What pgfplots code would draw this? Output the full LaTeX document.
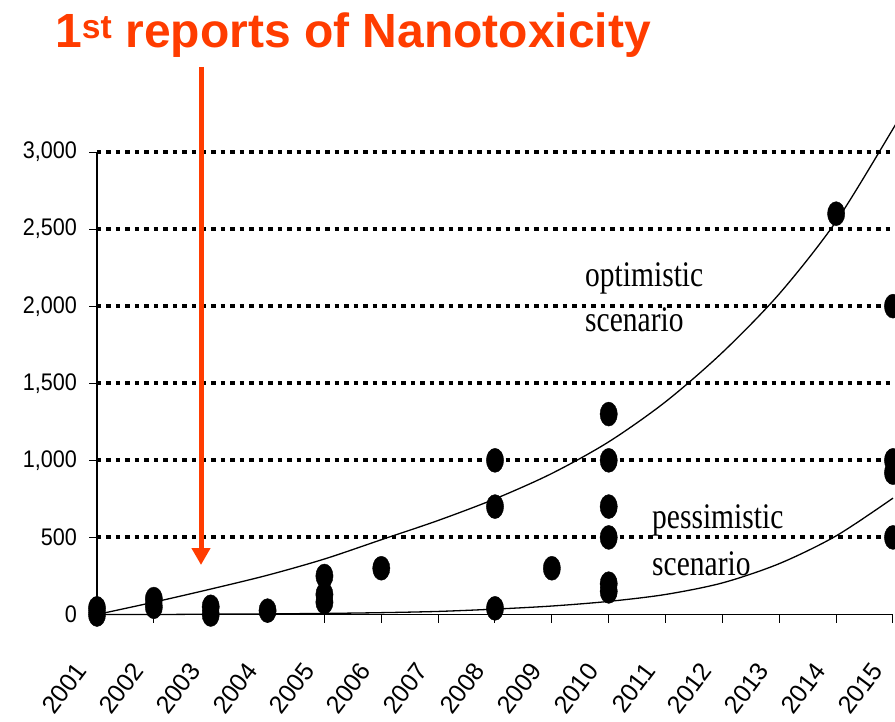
\documentclass[border=0pt]{standalone}
\usepackage{fontspec}
\setmainfont{Liberation Sans}
\newfontfamily\seriffont{Liberation Serif}
\usepackage{pgfplots}
\pgfplotsset{compat=1.18}
\usetikzlibrary{arrows.meta}
\definecolor{titlered}{RGB}{255,60,0}
\begin{document}
\begin{tikzpicture}[x=1pt,y=1pt]
\useasboundingbox (-97,-106.5) rectangle (798,614.5);
\begin{axis}[
  at={(0,0)}, anchor=south west, scale only axis,
  width=796pt, height=462.5pt,
  xmin=2001, xmax=2015, ymin=0, ymax=3000,
  clip=false,
  axis x line=bottom, axis y line=left,
  axis line style={-, line width=1.2pt, black},
  xtick={2001,2002,...,2015},
  xticklabels={2001,2002,2003,2004,2005,2006,2007,2008,2009,2010,2011,2012,2013,2014,2015},
  ytick={0,500,...,3000},
  yticklabels={0,500,{1,000},{1,500},{2,000},{2,500},{3,000}},
  tick align=outside, major tick length=8pt,
  tick style={black, line width=1pt},
  yticklabel style={font=\fontsize{24}{24}\selectfont, xshift=-12pt, xscale=0.9, anchor=east, inner sep=0pt},
  xticklabel style={font=\fontsize{25}{25}\selectfont, xshift=-23pt, yshift=-38pt, rotate=53, anchor=north east, inner sep=0pt},
]
\draw[line width=4pt, dash pattern=on 4.5pt off 5pt] (axis cs:2001,500) -- (axis cs:2015.05,500);
\draw[line width=4pt, dash pattern=on 4.5pt off 5pt] (axis cs:2001,1000) -- (axis cs:2015.05,1000);
\draw[line width=4pt, dash pattern=on 4.5pt off 5pt] (axis cs:2001,1500) -- (axis cs:2015.05,1500);
\draw[line width=4pt, dash pattern=on 4.5pt off 5pt] (axis cs:2001,2000) -- (axis cs:2015.05,2000);
\draw[line width=4pt, dash pattern=on 4.5pt off 5pt] (axis cs:2001,2500) -- (axis cs:2015.05,2500);
\draw[line width=4pt, dash pattern=on 4.5pt off 5pt] (axis cs:2001,3000) -- (axis cs:2015.05,3000);
% optimistic scenario
\addplot[black, line width=1.3pt, smooth] coordinates {
 (2001,0) (2002,80) (2003,165) (2004,255) (2005,360) (2006,485) (2007,610)
 (2008,750) (2009,915) (2010,1120) (2011,1380) (2012,1700) (2013,2080)
 (2014,2550) (2015,3150) (2015.1,3220)};
% pessimistic scenario
\addplot[black, line width=1.3pt, smooth] coordinates {
 (2001,0) (2002,0) (2003,2) (2004,4) (2005,7) (2006,12) (2007,20)
 (2008,35) (2009,55) (2010,85) (2011,130) (2012,205) (2013,330)
 (2014,510) (2015,755)};
% reports
\addplot[only marks, mark=*, mark size=12pt, mark options={xscale=0.72, fill=black, draw=black}] coordinates {
 (2001,0) (2001,40) (2002,50) (2002,100) (2003,0) (2003,50) (2004,25)
 (2005,80) (2005,130) (2005,250) (2006,300)
 (2008,40) (2008,700) (2008,1000) (2009,300)
 (2010,150) (2010,200) (2010,500) (2010,700) (2010,1000) (2010,1300)
 (2014,2600) (2015,500) (2015,920) (2015,1000) (2015,2000)};
\end{axis}
\node[anchor=base west, inner sep=0pt, font=\fontsize{48}{56}\selectfont\bfseries, text=titlered] at (-42,566.5) {1\textsuperscript{st} reports of Nanotoxicity};
\draw[titlered, line width=5pt, -{Triangle[width=18pt, length=17pt]}] (104,547.5) -- (104,49.5);
\node[anchor=base west, inner sep=0pt] at (488,327.5) {\seriffont\fontsize{36}{36}\selectfont\scalebox{0.82}[1]{optimistic}};
\node[anchor=base west, inner sep=0pt] at (488,282.5) {\seriffont\fontsize{36}{36}\selectfont\scalebox{0.82}[1]{scenario}};
\node[anchor=base west, inner sep=0pt] at (555,86.5) {\seriffont\fontsize{36}{36}\selectfont\scalebox{0.82}[1]{pessimistic}};
\node[anchor=base west, inner sep=0pt] at (555,39.5) {\seriffont\fontsize{36}{36}\selectfont\scalebox{0.82}[1]{scenario}};
\end{tikzpicture}
\end{document}
